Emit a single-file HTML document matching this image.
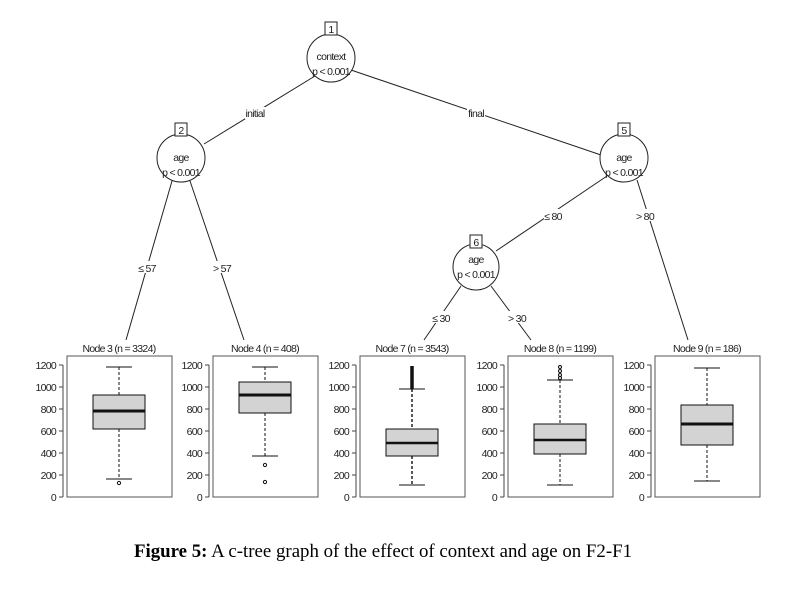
<!DOCTYPE html>
<html><head><meta charset="utf-8"><style>
html,body{margin:0;padding:0;background:#fff;}
svg text{font-family:"Liberation Sans",sans-serif;font-size:10.5px;letter-spacing:-0.7px;fill:#222;}
svg text.cap{font-family:"Liberation Serif",serif;font-size:19px;letter-spacing:0;fill:#000;}
</style></head><body>
<svg width="788" height="586" viewBox="0 0 788 586" xmlns="http://www.w3.org/2000/svg">
<g stroke="#222" stroke-width="1" fill="none">
<line x1="315" y1="76" x2="204" y2="144"/>
<line x1="351" y1="70" x2="601" y2="155"/>
<line x1="172" y1="181" x2="126" y2="340"/>
<line x1="190" y1="181" x2="244" y2="340"/>
<line x1="607" y1="176" x2="496" y2="251"/>
<line x1="637" y1="180" x2="688" y2="340"/>
<line x1="461" y1="286" x2="424" y2="340"/>
<line x1="491" y1="286" x2="531" y2="340"/>
</g>
<g>
<rect x="245" y="107" width="20" height="12" fill="#fff"/><text x="255" y="117" text-anchor="middle">initial</text>
<rect x="467" y="107" width="18" height="12" fill="#fff"/><text x="476" y="117" text-anchor="middle">final</text>
<rect x="138" y="261" width="18" height="12" fill="#fff"/><text x="147" y="272" text-anchor="middle">≤ 57</text>
<rect x="213" y="261" width="18" height="12" fill="#fff"/><text x="222" y="272" text-anchor="middle">&gt; 57</text>
<rect x="544" y="209" width="18" height="12" fill="#fff"/><text x="553" y="220" text-anchor="middle">≤ 80</text>
<rect x="636" y="209" width="18" height="12" fill="#fff"/><text x="645" y="220" text-anchor="middle">&gt; 80</text>
<rect x="432" y="311" width="18" height="12" fill="#fff"/><text x="441" y="322" text-anchor="middle">≤ 30</text>
<rect x="508" y="311" width="18" height="12" fill="#fff"/><text x="517" y="322" text-anchor="middle">&gt; 30</text>
</g>
<g stroke="#222" fill="#fff">
<circle cx="331" cy="58" r="24"/><rect x="325" y="22" width="12" height="13"/>
<circle cx="181" cy="158" r="24"/><rect x="175" y="123" width="12" height="13"/>
<circle cx="624" cy="158" r="24"/><rect x="618" y="123" width="12" height="13"/>
<circle cx="476" cy="267" r="23"/><rect x="470" y="235" width="12" height="13"/>
</g>
<g text-anchor="middle">
<text x="331" y="33">1</text><text x="331" y="60">context</text><text x="331" y="75">p &lt; 0.001</text>
<text x="181" y="134">2</text><text x="181" y="161">age</text><text x="181" y="176">p &lt; 0.001</text>
<text x="624" y="134">5</text><text x="624" y="161">age</text><text x="624" y="176">p &lt; 0.001</text>
<text x="476" y="246">6</text><text x="476" y="263">age</text><text x="476" y="278">p &lt; 0.001</text>
</g>
<g text-anchor="middle">
<text x="119" y="352">Node 3 (n = 3324)</text>
<text x="265" y="352">Node 4 (n = 408)</text>
<text x="412" y="352">Node 7 (n = 3543)</text>
<text x="560" y="352">Node 8 (n = 1199)</text>
<text x="707" y="352">Node 9 (n = 186)</text>
</g>
<g stroke="#555" fill="none">
<rect x="67" y="356" width="105" height="141"/>
<rect x="213" y="356" width="105" height="141"/>
<rect x="360" y="356" width="105" height="141"/>
<rect x="508" y="356" width="105" height="141"/>
<rect x="655" y="356" width="105" height="141"/>
</g>
<g stroke="#444">
<path d="M63 365V497 M59 365H63 M59 387H63 M59 409H63 M59 431H63 M59 453H63 M59 475H63 M59 497H63"/>
<path d="M209 365V497 M205 365H209 M205 387H209 M205 409H209 M205 431H209 M205 453H209 M205 475H209 M205 497H209"/>
<path d="M356 365V497 M352 365H356 M352 387H356 M352 409H356 M352 431H356 M352 453H356 M352 475H356 M352 497H356"/>
<path d="M504 365V497 M500 365H504 M500 387H504 M500 409H504 M500 431H504 M500 453H504 M500 475H504 M500 497H504"/>
<path d="M651 365V497 M647 365H651 M647 387H651 M647 409H651 M647 431H651 M647 453H651 M647 475H651 M647 497H651"/>
</g>
<g text-anchor="end">
<text x="56" y="369">1200</text><text x="56" y="391">1000</text><text x="56" y="413">800</text><text x="56" y="435">600</text><text x="56" y="457">400</text><text x="56" y="479">200</text><text x="56" y="501">0</text>
<text x="202" y="369">1200</text><text x="202" y="391">1000</text><text x="202" y="413">800</text><text x="202" y="435">600</text><text x="202" y="457">400</text><text x="202" y="479">200</text><text x="202" y="501">0</text>
<text x="349" y="369">1200</text><text x="349" y="391">1000</text><text x="349" y="413">800</text><text x="349" y="435">600</text><text x="349" y="457">400</text><text x="349" y="479">200</text><text x="349" y="501">0</text>
<text x="497" y="369">1200</text><text x="497" y="391">1000</text><text x="497" y="413">800</text><text x="497" y="435">600</text><text x="497" y="457">400</text><text x="497" y="479">200</text><text x="497" y="501">0</text>
<text x="644" y="369">1200</text><text x="644" y="391">1000</text><text x="644" y="413">800</text><text x="644" y="435">600</text><text x="644" y="457">400</text><text x="644" y="479">200</text><text x="644" y="501">0</text>
</g>
<g stroke="#111" fill="none">
<path d="M119 367V395 M119 429V479" stroke-dasharray="3,2"/>
<path d="M106 367H132 M106 479H132"/>
<rect x="93" y="395" width="52" height="34" fill="#d3d3d3"/>
<line x1="93" y1="411" x2="145" y2="411" stroke-width="3"/>
<circle cx="119" cy="483" r="1.6"/>
<path d="M265 367V382 M265 413V456" stroke-dasharray="3,2"/>
<path d="M252 367H278 M252 456H278"/>
<rect x="239" y="382" width="52" height="31" fill="#d3d3d3"/>
<line x1="239" y1="395" x2="291" y2="395" stroke-width="3"/>
<circle cx="265" cy="465" r="1.6"/><circle cx="265" cy="482" r="1.6"/>
<path d="M412 389V429 M412 456V485" stroke-dasharray="3,2" stroke-width="1.4"/>
<path d="M399 389H425 M399 485H425"/>
<rect x="386" y="429" width="52" height="27" fill="#d3d3d3"/>
<line x1="386" y1="443" x2="438" y2="443" stroke-width="2.5"/>
<line x1="412" y1="366" x2="412" y2="389" stroke-width="3.5"/>
<path d="M560 380V424 M560 454V485" stroke-dasharray="3,2"/>
<path d="M547 380H573 M547 485H573"/>
<rect x="534" y="424" width="52" height="30" fill="#d3d3d3"/>
<line x1="534" y1="440" x2="586" y2="440" stroke-width="2.5"/>
<circle cx="560" cy="367" r="1.5"/><circle cx="560" cy="371" r="1.5"/><circle cx="560" cy="375" r="1.5"/><circle cx="560" cy="378" r="1.5"/>
<path d="M707 368V405 M707 445V481" stroke-dasharray="3,2"/>
<path d="M694 368H720 M694 481H720"/>
<rect x="681" y="405" width="52" height="40" fill="#d3d3d3"/>
<line x1="681" y1="424" x2="733" y2="424" stroke-width="3"/>
</g>
<text class="cap" x="134" y="557" textLength="498" lengthAdjust="spacingAndGlyphs"><tspan font-weight="bold">Figure 5:</tspan> A c-tree graph of the effect of context and age on F2-F1</text>
</svg>
</body></html>
